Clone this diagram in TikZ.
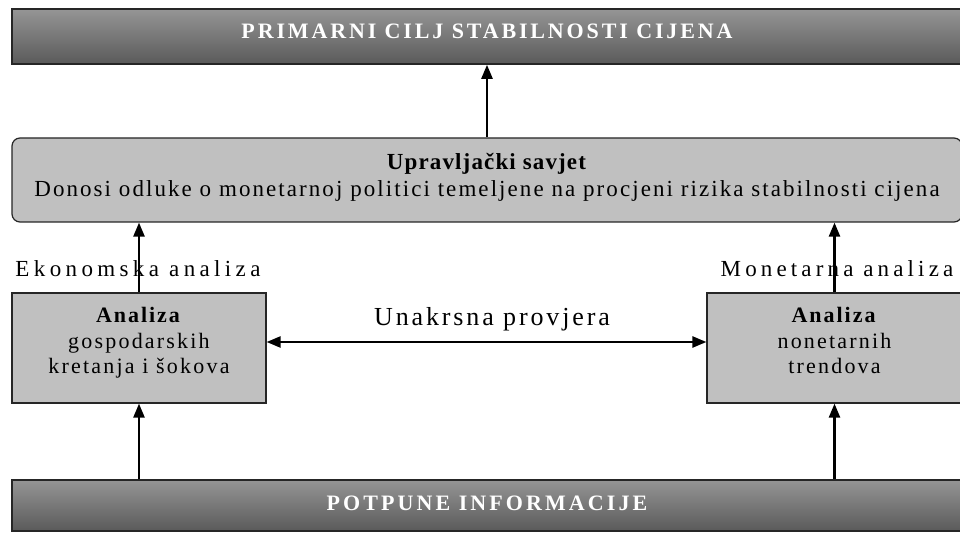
\documentclass[tikz,border=0pt]{standalone}
\usepackage{fontspec}
\setmainfont{Liberation Serif}
\usetikzlibrary{arrows.meta,calc}
\definecolor{bartop}{HTML}{959595}
\definecolor{barbot}{HTML}{5A5A5A}
\definecolor{boxfill}{HTML}{C0C0C0}
\newcommand{\lsp}[2]{{\addfontfeature{LetterSpace=#1}#2}}
\newcommand{\lift}[2]{\raisebox{#1}[\height][\depth]{#2}}
\begin{document}
\begin{tikzpicture}[x=1pt,y=-1pt,
  bar/.style={draw=black!85, line width=1.6pt, top color=bartop, bottom color=barbot,
    minimum width=950pt, inner sep=0pt, text=white,
    font=\bfseries\fontsize{22}{26}\selectfont},
  panel/.style={draw=black!85, line width=1.2pt, fill=boxfill, rounded corners=8pt,
    minimum width=950pt, minimum height=84pt, inner sep=0pt,
    font=\fontsize{23}{27}\selectfont},
  abox/.style={draw=black!85, line width=1.2pt, fill=boxfill, minimum height=110pt,
    inner sep=0pt, font=\fontsize{22}{25.5}\selectfont},
  lbl/.style={anchor=base, inner sep=0pt, font=\fontsize{23}{27}\selectfont},
  arr/.style={line width=2.4pt, -{Triangle[length=14pt,width=11pt]}},
  darr/.style={line width=2.4pt, {Triangle[length=14pt,width=11pt]}-{Triangle[length=14pt,width=11pt]}}
]
\clip (0,0) rectangle (960,534);
\fill[white] (0,0) rectangle (960,534);

\node[bar, minimum height=55pt] (top) at (487,36.5) {\lift{5pt}{\lsp{13}{PRIMARNI CILJ STABILNOSTI CIJENA}}};
\node[panel] (mid) at (487,180) {\lift{2pt}{\begin{tabular}{@{}c@{}}\textbf{\lsp{5}{Upravljački savjet}}\\\lsp{9}{Donosi odluke o monetarnoj politici temeljene na procjeni rizika stabilnosti cijena}\end{tabular}}};
\node[abox, minimum width=254pt] (lbox) at (139,348) {\lift{5pt}{\begin{tabular}{@{}c@{}}\textbf{\lsp{9}{Analiza}}\\\lsp{10}{gospodarskih}\\\lsp{10}{kretanja i šokova}\end{tabular}}};
\node[abox, minimum width=255pt] (rbox) at (834.5,348) {\lift{5pt}{\begin{tabular}{@{}c@{}}\textbf{\lsp{9}{Analiza}}\\\lsp{10}{nonetarnih}\\\lsp{10}{trendova}\end{tabular}}};
\node[bar, minimum height=51pt] (bot) at (487,505.5) {\lift{2pt}{\lsp{14}{POTPUNE INFORMACIJE}}};

\node[lbl] (ek) at (138,277) {\lsp{19}{Ekonomska analiza}};
\node[lbl] (mo) at (837,277) {\lsp{18}{Monetarna analiza}};
\node[lbl, font=\fontsize{26}{30}\selectfont] (un) at (492,325) {\lsp{11}{Unakrsna provjera}};

\draw[arr] (mid.north) -- (top.south);
\draw[arr] (lbox.north) -- (lbox.north |- mid.south);
\draw[arr] (rbox.north) -- (rbox.north |- mid.south);
\draw[arr] (lbox.south |- bot.north) -- (lbox.south);
\draw[arr] (rbox.south |- bot.north) -- (rbox.south);
\draw[darr] ([yshift=6pt]lbox.east) -- ([yshift=6pt]rbox.west);
\end{tikzpicture}
\end{document}
